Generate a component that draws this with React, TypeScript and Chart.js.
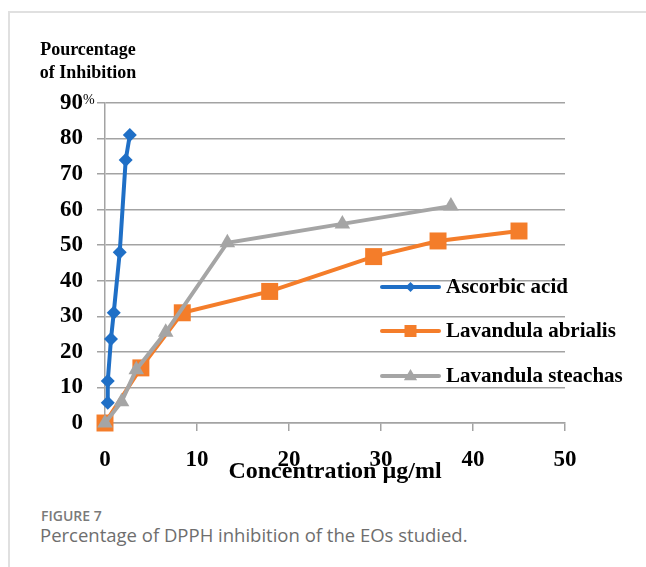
import React, { useEffect, useRef } from "react";
import { Chart, registerables } from "chart.js";

Chart.register(...registerables);

const seriesNames = ["Ascorbic acid", "Lavandula abrialis", "Lavandula steachas"];
const ascorbicX = [0.3, 0.3, 0.65, 0.95, 1.6, 2.25, 2.7];
const ascorbicY = [5.7, 11.8, 23.6, 31, 48, 74, 81];
const abrialisX = [0, 3.9, 8.4, 17.9, 29.2, 36.2, 45];
const abrialisY = [0, 15.5, 31, 37, 46.8, 51.2, 54];
const steachasX = [0, 1.8, 3.4, 6.6, 13.3, 25.8, 37.6];
const steachasY = [0, 6, 15, 25.5, 50.7, 56, 61];
const xTicks = [0, 10, 20, 30, 40, 50];
const yTicks = [0, 10, 20, 30, 40, 50, 60, 70, 80, 90];
const yTitleLines = ["Pourcentage", "of Inhibition"];
const xTitle = "Concentration µg/ml";

const BLUE = "#1f6fc6";
const ORANGE = "#f47d2a";
const GRAY = "#a5a5a5";
const GRID = "#a3a3a3";
const SERIF = "'Liberation Serif', 'Times New Roman', serif";

const pts = (xs: number[], ys: number[]) => xs.map((x, i) => ({ x, y: ys[i] }));

function drawMarker(ctx: CanvasRenderingContext2D, style: string, x: number, y: number, r: number, color: string) {
  ctx.save();
  ctx.fillStyle = color;
  ctx.beginPath();
  if (style === "rectRot") {
    ctx.moveTo(x - r, y);
    ctx.lineTo(x, y - r);
    ctx.lineTo(x + r, y);
    ctx.lineTo(x, y + r);
  } else if (style === "rect") {
    ctx.rect(x - r, y - r, 2 * r, 2 * r);
  } else {
    ctx.moveTo(x, y - r);
    ctx.lineTo(x + r * 0.95, y + r * 0.6);
    ctx.lineTo(x - r * 0.95, y + r * 0.6);
  }
  ctx.closePath();
  ctx.fill();
  ctx.restore();
}

const extras = {
  id: "extras",
  afterDraw(chart: any) {
    const ctx = chart.ctx as CanvasRenderingContext2D;
    const { left, right } = chart.chartArea;
    const ys = chart.scales.y;
    ctx.save();
    ctx.fillStyle = "#000";
    ctx.font = `bold 18px ${SERIF}`;
    ctx.textAlign = "center";
    ctx.textBaseline = "middle";
    ctx.fillText(yTitleLines[0], 88, 50);
    ctx.fillText(yTitleLines[1], 88, 73);
    ctx.font = `14px ${SERIF}`;
    ctx.textAlign = "left";
    ctx.fillText("%", 83, ys.getPixelForValue(90) - 3);
    ctx.font = `bold 24px ${SERIF}`;
    ctx.textAlign = "center";
    ctx.fillText(xTitle, (left + right) / 2, 472);
    const legendY = [287, 331, 376];
    const styles = ["rectRot", "rect", "triangle"];
    const sizes = [5, 6, 7];
    chart.data.datasets.forEach((ds: any, i: number) => {
      const y = legendY[i];
      ctx.strokeStyle = ds.borderColor;
      ctx.lineWidth = 4;
      ctx.lineCap = "round";
      ctx.beginPath();
      ctx.moveTo(382, y);
      ctx.lineTo(439, y);
      ctx.stroke();
      drawMarker(ctx, styles[i], 410.5, y, sizes[i], ds.borderColor);
      ctx.fillStyle = "#000";
      ctx.font = `bold 21px ${SERIF}`;
      ctx.textAlign = "left";
      ctx.textBaseline = "middle";
      ctx.fillText(ds.label, 446, y + 1);
    });
    ctx.restore();
  },
};

export default function App() {
  const ref = useRef<HTMLCanvasElement | null>(null);
  useEffect(() => {
    if (!ref.current) return;
    const chart = new Chart(ref.current, {
      type: "line",
      data: {
        datasets: [
          {
            label: seriesNames[0],
            data: pts(ascorbicX, ascorbicY),
            borderColor: BLUE,
            backgroundColor: BLUE,
            borderWidth: 4,
            pointStyle: "rectRot",
            pointRadius: 7,
            pointBorderWidth: 0,
            order: 0,
            clip: false,
          },
          {
            label: seriesNames[1],
            data: pts(abrialisX, abrialisY),
            borderColor: ORANGE,
            backgroundColor: ORANGE,
            borderWidth: 4,
            pointStyle: "rect",
            pointRadius: 12,
            pointBorderWidth: 0,
            order: 2,
            clip: false,
          },
          {
            label: seriesNames[2],
            data: pts(steachasX, steachasY),
            borderColor: GRAY,
            backgroundColor: GRAY,
            borderWidth: 4,
            pointStyle: "triangle",
            pointRadius: 9,
            pointBorderWidth: 0,
            order: 1,
            clip: false,
          },
        ] as any,
      },
      options: {
        animation: false,
        responsive: false,
        maintainAspectRatio: false,
        layout: { padding: { left: 0, right: 81, top: 103, bottom: 0 } },
        plugins: { legend: { display: false }, tooltip: { enabled: false } },
        scales: {
          x: {
            type: "linear",
            min: 0,
            max: 50,
            afterFit: (s: any) => { s.height = 77; },
            afterBuildTicks: (s: any) => { s.ticks = xTicks.map((v) => ({ value: v })); },
            grid: { drawOnChartArea: false, drawTicks: true, tickLength: 8, color: GRID, lineWidth: 1.5 },
            border: { color: GRID, width: 1.5 },
            ticks: { color: "#000", padding: 15, font: { family: SERIF, size: 23, weight: "bold" } },
          },
          y: {
            type: "linear",
            min: 0,
            max: 90,
            afterFit: (s: any) => { s.width = 105; },
            afterBuildTicks: (s: any) => { s.ticks = yTicks.map((v) => ({ value: v })); },
            grid: { color: GRID, lineWidth: 1.5, tickLength: 8 },
            border: { color: GRID, width: 1.5 },
            ticks: { color: "#000", padding: 14, font: { family: SERIF, size: 23, weight: "bold" } },
          },
        },
      } as any,
      plugins: [extras],
    });
    return () => chart.destroy();
  }, []);

  return (
    <div style={{ position: "absolute", left: 0, top: 0, width: 646, height: 567, background: "#fff", overflow: "hidden" }}>
      <div style={{ position: "absolute", left: 8, top: 11, width: 638, height: 2, background: "#e0e0e0" }} />
      <div style={{ position: "absolute", left: 8, top: 11, width: 2, height: 556, background: "#e0e0e0" }} />
      <canvas ref={ref} width={646} height={500} style={{ position: "absolute", left: 0, top: 0, width: 646, height: 500 }} />
      <div style={{ position: "absolute", left: 41, top: 506, fontFamily: "'Open Sans', sans-serif", fontSize: 14, fontWeight: 600, color: "#7a7a7a", whiteSpace: "nowrap" }}>
        FIGURE 7
      </div>
      <div style={{ position: "absolute", left: 40, top: 522, fontFamily: "'Open Sans', sans-serif", fontSize: 18.5, fontWeight: 400, color: "#6e6e6e", whiteSpace: "nowrap" }}>
        Percentage of DPPH inhibition of the EOs studied.
      </div>
    </div>
  );
}
